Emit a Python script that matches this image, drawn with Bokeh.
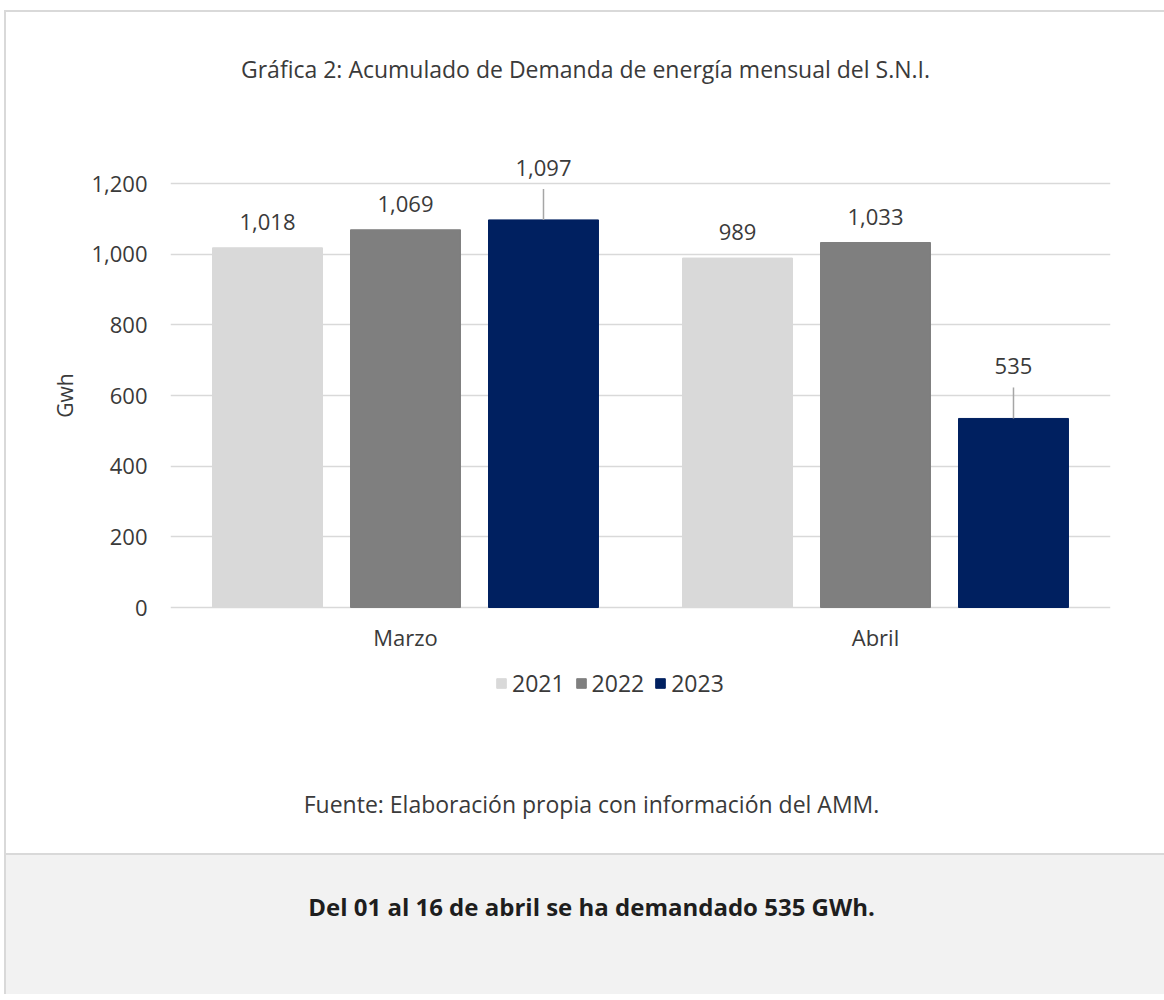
from bokeh.plotting import figure
from bokeh.layouts import column
from bokeh.core.properties import value
from bokeh.models import (FactorRange, Range1d, ColumnDataSource, LabelSet, Label,
                          Legend, LegendItem, FixedTicker, NumeralTickFormatter)
from bokeh.transform import dodge
from bokeh.embed import file_html
from bokeh.resources import INLINE

# ---- data ----
months = ["Marzo", "Abril"]
years = ["2021", "2022", "2023"]
v2021 = [1018, 989]
v2022 = [1069, 1033]
v2023 = [1097, 535]
yticks = [0, 200, 400, 600, 800, 1000, 1200]
colors = ["#d9d9d9", "#7f7f7f", "#002060"]

title_txt = "Gráfica 2:  Acumulado de Demanda de energía mensual del S.N.I."
ylabel_txt = "Gwh"
source_txt = "Fuente: Elaboración propia con información del AMM."
note_txt = "Del 01 al 16 de abril se ha demandado 535 GWh."

FONT = "Open Sans"
TXT = "#3a3a3a"
FS = "22px"
PANEL = "#f2f2f2"

W = 1158
H1 = 766          # chart part
H_SRC = 75        # white strip with source note
H2 = 141          # grey panel
ML, MR = 164, 54
zero_y = 595      # pixel row of value 0 inside the chart part
px_per_unit = 424 / 1200.0
y_end = zero_y / px_per_unit
y_start = -(H1 - zero_y) / px_per_unit

leader_px = 31
lead_top = [v + leader_px / px_per_unit for v in v2023]

src = ColumnDataSource(dict(month=months, y2021=v2021, y2022=v2022, y2023=v2023,
                            lead=lead_top,
                            t2021=[f"{v:,}" for v in v2021],
                            t2022=[f"{v:,}" for v in v2022],
                            t2023=[f"{v:,}" for v in v2023]))

p = figure(x_range=FactorRange(*months), y_range=Range1d(y_start, y_end),
           width=W, height=H1, min_border_left=ML, min_border_right=MR,
           min_border_top=0, min_border_bottom=0,
           output_backend="svg", toolbar_location=None)
p.outline_line_color = None
p.background_fill_color = "white"
p.border_fill_color = "white"

p.xgrid.visible = False
p.ygrid.ticker = FixedTicker(ticks=yticks)
p.ygrid.grid_line_color = "#d9d9d9"
p.ygrid.grid_line_width = 1.5

p.yaxis.ticker = FixedTicker(ticks=yticks)
p.yaxis.formatter = NumeralTickFormatter(format="0,0")
p.yaxis.axis_line_color = None
p.yaxis.major_tick_line_color = None
p.yaxis.minor_tick_line_color = None
p.yaxis.major_tick_out = 0
p.yaxis.major_tick_in = 0
p.yaxis.major_label_standoff = 23
p.yaxis.major_label_text_font = FONT
p.yaxis.major_label_text_font_size = FS
p.yaxis.major_label_text_color = TXT
p.yaxis.axis_label = ylabel_txt
p.yaxis.axis_label_standoff = 9
p.yaxis.axis_label_text_font = FONT
p.yaxis.axis_label_text_font_size = "21px"
p.yaxis.axis_label_text_font_style = "normal"
p.yaxis.axis_label_text_color = TXT

p.xaxis.fixed_location = 0
p.xaxis.axis_line_color = None
p.xaxis.major_tick_line_color = None
p.xaxis.minor_tick_line_color = None
p.xaxis.major_tick_out = 0
p.xaxis.major_tick_in = 0
p.xaxis.major_label_standoff = 14
p.xaxis.major_label_text_font = FONT
p.xaxis.major_label_text_font_size = FS
p.xaxis.major_label_text_color = TXT

offsets = [-0.2936, 0.0, 0.2936]
bar_w = 0.234
cols = ["y2021", "y2022", "y2023"]
tcols = ["t2021", "t2022", "t2023"]
rs = []
for off, col, c in zip(offsets, cols, colors):
    r = p.vbar(x=dodge("month", off, range=p.x_range), top=col, width=bar_w,
               source=src, fill_color=c, line_color=c)
    rs.append(r)

# leader lines for the 2023 labels
p.segment(x0=dodge("month", offsets[2], range=p.x_range), y0="y2023",
          x1=dodge("month", offsets[2], range=p.x_range), y1="lead",
          source=src, line_color="#a6a6a6", line_width=1.5)

for i, (off, col, tcol) in enumerate(zip(offsets, cols, tcols)):
    ls = LabelSet(x=dodge("month", off, range=p.x_range), y=col, text=tcol,
                  source=src, y_offset=(52 if i == 2 else 26),
                  text_align="center", text_baseline="middle",
                  text_font=value(FONT), text_font_size=FS, text_color=TXT)
    p.add_layout(ls)

legend = Legend(items=[LegendItem(label=y, renderers=[r]) for y, r in zip(years, rs)],
                orientation="horizontal", location=(325, 79),
                glyph_width=12, glyph_height=12, label_standoff=5, spacing=10,
                padding=0, margin=0, border_line_color=None, background_fill_alpha=0,
                label_text_font=FONT, label_text_font_size="23px",
                label_text_color=TXT)
p.add_layout(legend)

p.add_layout(Label(x=418, y=H1 - 56, x_units="screen", y_units="screen", text=title_txt,
                   text_align="center", text_baseline="middle",
                   text_font=FONT, text_font_size="23px", text_color=TXT))


def strip(h, fill, **kw):
    f = figure(x_range=Range1d(0, 1), y_range=Range1d(0, 1), width=W, height=h,
               min_border_left=ML, min_border_right=MR, min_border_top=0,
               min_border_bottom=0, output_backend="svg", toolbar_location=None, **kw)
    f.axis.visible = False
    f.grid.visible = False
    f.outline_line_color = None
    f.background_fill_color = fill
    f.border_fill_color = fill
    return f


q1 = strip(H_SRC, "white")
q1.add_layout(Label(x=421, y=H_SRC - 25, x_units="screen", y_units="screen", text=source_txt,
                    text_align="center", text_baseline="middle",
                    text_font=FONT, text_font_size="23px", text_color=TXT))

q2 = strip(H2, None, styles={"border-top": "2px solid #d9d9d9",
                             "background-color": PANEL})
q2.add_layout(Label(x=421, y=H2 - 51, x_units="screen", y_units="screen", text=note_txt,
                    text_align="center", text_baseline="middle",
                    text_font=FONT, text_font_size="24px", text_font_style="bold",
                    text_color="#1e1e1e"))

layout = column(p, q1, q2, spacing=0,
                styles={"margin-top": "10px", "margin-left": "4px",
                        "border-top": "2px solid #d9d9d9",
                        "border-left": "2px solid #d9d9d9"})
open("out.html", "w").write(file_html(layout, INLINE))
